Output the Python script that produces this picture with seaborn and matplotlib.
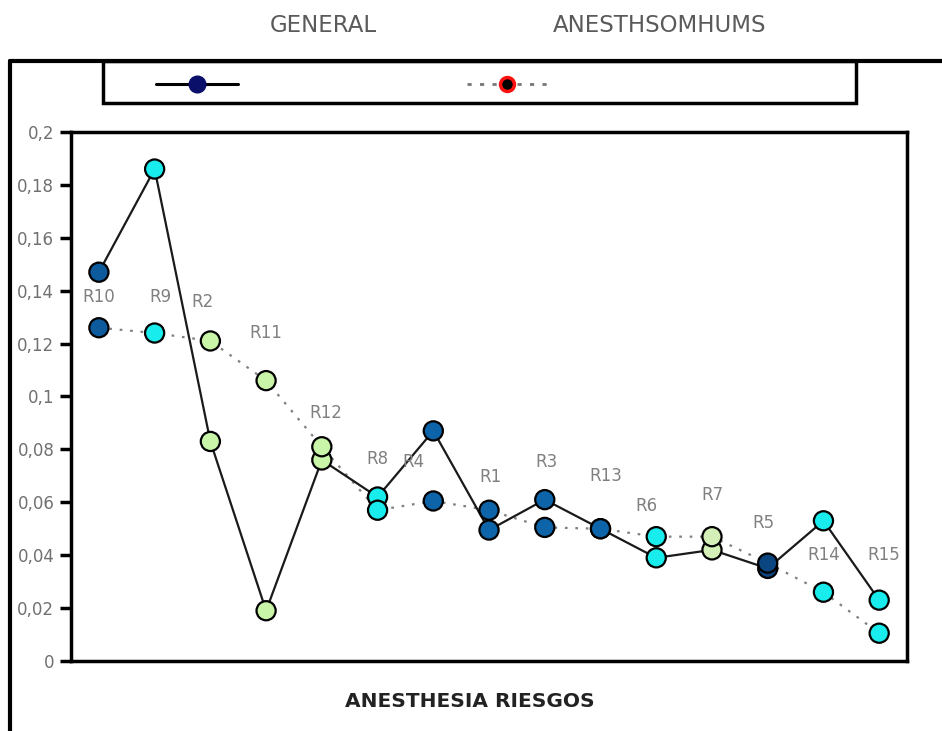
import matplotlib
matplotlib.use("Agg")
import matplotlib.pyplot as plt
from matplotlib.lines import Line2D
from matplotlib.patches import Rectangle
import seaborn as sns
import pandas as pd

# Risk categories along the horizontal axis
categories = ["R10", "R9", "R2", "R11", "R12", "R8", "R4", "R1", "R3",
              "R13", "R6", "R7", "R5", "R14", "R15"]

# Series values
general = [0.147, 0.186, 0.083, 0.019, 0.076, 0.062, 0.087, 0.0495, 0.061,
           0.050, 0.039, 0.042, 0.035, 0.053, 0.023]
anesthsomhums = [0.126, 0.124, 0.121, 0.106, 0.081, 0.057, 0.0605, 0.057, 0.0505,
                 0.050, 0.047, 0.047, 0.037, 0.026, 0.0105]

series_names = ["GENERAL", "ANESTHSOMHUMS"]
y_ticks = [0, 0.02, 0.04, 0.06, 0.08, 0.1, 0.12, 0.14, 0.16, 0.18, 0.2]
y_tick_labels = ["0", "0,02", "0,04", "0,06", "0,08", "0,1", "0,12", "0,14",
                 "0,16", "0,18", "0,2"]
x_title = "ANESTHESIA RIESGOS"

# Marker fill per category
point_colors = {
    "R10": "#0d5a9c", "R9": "#19ecec", "R2": "#c8f5a8", "R11": "#c8f5a8",
    "R12": "#c8f5a8", "R8": "#19ecec", "R4": "#0d64a8", "R1": "#0d64a8",
    "R3": "#0d64a8", "R13": "#0d64a8", "R6": "#19ecec", "R7": "#d4f0b8",
    "R5": "#0b4680", "R14": "#19ecec", "R15": "#19ecec",
}
# Label offsets (points) relative to the dotted-series point
label_offsets = [(0, 22), (4, 26), (-6, 28), (0, 34), (3, 24), (0, 37), (-14, 28),
                 (1, 24), (1, 47), (4, 38), (-7, 22), (0, 30), (-3, 29), (0, 27), (3, 56)]

pos = list(range(len(categories)))
df = pd.DataFrame({
    "pos": pos * 2,
    "cat": categories * 2,
    "value": general + anesthsomhums,
    "series": [series_names[0]] * len(pos) + [series_names[1]] * len(pos),
})

sns.set_style("white")
plt.rcParams["font.family"] = ["DejaVu Sans"]

fig = plt.figure(figsize=(9.42, 7.31), dpi=100)
ax = fig.add_axes([0.0754, 0.0958, 0.8875, 0.7236])

sns.lineplot(data=df[df.series == series_names[1]], x="pos", y="value",
             color="#808080", linestyle=(0, (1.2, 3.5)), linewidth=1.6, ax=ax,
             zorder=2)
sns.lineplot(data=df[df.series == series_names[0]], x="pos", y="value",
             color="#1a1a1a", linewidth=1.6, ax=ax, zorder=2)
sns.scatterplot(data=df, x="pos", y="value", hue="cat", palette=point_colors,
                s=190, edgecolor="black", linewidth=1.6, legend=False, ax=ax,
                zorder=3)

for i, cat in enumerate(categories):
    ax.annotate(cat, (i, anesthsomhums[i]), xytext=label_offsets[i],
                textcoords="offset points", ha="center", va="center",
                fontsize=12, color="#808080")

ax.set_xlim(-0.5, len(categories) - 0.5)
ax.set_ylim(0, 0.2)
ax.set_yticks(y_ticks)
ax.set_yticklabels(y_tick_labels, color="#707070", fontsize=12)
ax.set_xticks([])
ax.set_xlabel(x_title, fontsize=14.5, fontweight="bold", color="#222222")
ax.xaxis.set_label_coords(0.477, -0.058)
ax.set_ylabel("")
ax.tick_params(axis="y", direction="out", length=8, width=2.5, color="black",
               pad=4, left=True)
for sp in ax.spines.values():
    sp.set_visible(True)
    sp.set_color("black")
    sp.set_linewidth(2.5)

# Outer frame and legend
W, H = 942, 731
def fx(px):
    return px / W
def fy(py):
    return 1 - py / H

fig.add_artist(Line2D([fx(10), fx(942)], [fy(61), fy(61)], color="black",
                      linewidth=3, transform=fig.transFigure))
fig.add_artist(Line2D([fx(10), fx(10)], [fy(61), fy(731)], color="black",
                      linewidth=3, transform=fig.transFigure))
fig.add_artist(Rectangle((fx(103), fy(103)), fx(856) - fx(103), fy(61) - fy(103),
                         fill=False, edgecolor="black", linewidth=2.5,
                         transform=fig.transFigure))
fig.add_artist(Line2D([fx(156), fx(238)], [fy(84), fy(84)], color="black",
                      linewidth=2.2, transform=fig.transFigure))
fig.add_artist(Line2D([fx(197)], [fy(84)], marker="o", markersize=12,
                      markerfacecolor="#0a0f6a", markeredgecolor="#0a0f6a",
                      linestyle="none", transform=fig.transFigure))
fig.add_artist(Line2D([fx(467), fx(550)], [fy(84)] * 2, color="#777777",
                      linewidth=2, linestyle=(0, (1.5, 3)), transform=fig.transFigure))
fig.add_artist(Line2D([fx(507)], [fy(84)], marker="o", markersize=10,
                      markerfacecolor="black", markeredgecolor="#ff1010",
                      markeredgewidth=2.5, linestyle="none",
                      transform=fig.transFigure))
fig.text(fx(323), fy(25), series_names[0], ha="center", va="center",
         fontsize=16.5, color="#5a5a5a")
fig.text(fx(660), fy(25), series_names[1], ha="center", va="center",
         fontsize=16.5, color="#5a5a5a")

fig.savefig("out.png", dpi=100)
